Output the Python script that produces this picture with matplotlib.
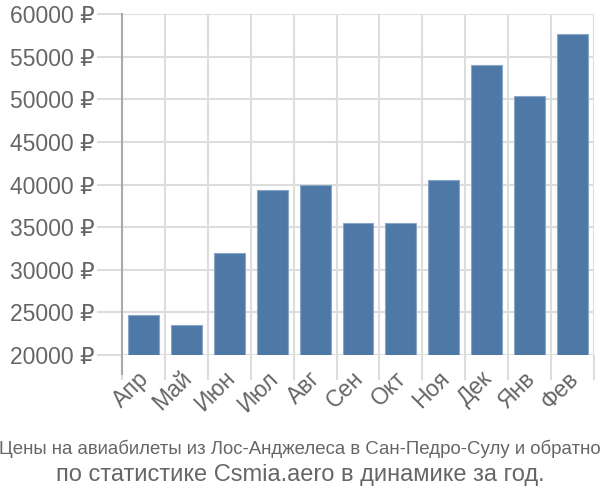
import matplotlib
matplotlib.use("Agg")
import matplotlib.pyplot as plt
import numpy as np
from matplotlib.lines import Line2D
import matplotlib.transforms as mtransforms

months = ["Апр", "Май", "Июн", "Июл", "Авг", "Сен", "Окт", "Ноя", "Дек", "Янв", "Фев"]
prices = [24700, 23500, 31950, 39400, 39900, 35450, 35450, 40550, 54000, 50400, 57650]
yticks = [20000, 25000, 30000, 35000, 40000, 45000, 50000, 55000, 60000]
title1 = "Цены на авиабилеты из Лос-Анджелеса в Сан-Педро-Сулу и обратно"
title2 = "по статистике Csmia.aero в динамике за год."

plt.rcParams['font.family'] = ['Liberation Sans', 'DejaVu Sans']

fig = plt.figure(figsize=(6, 5), dpi=100)
ax = fig.add_axes([122/600, 1-355/500, 472/600, (355-14)/500])

x = np.arange(len(months))
ax.bar(x, prices, width=0.72, bottom=0, color="#4e79a7", edgecolor="#8aa6c6", linewidth=0.8, zorder=3)
ax.set_xlim(-0.5, len(months)-0.5)
ax.set_ylim(20000, 60000)

ax.set_yticks(yticks)
ax.set_yticklabels([f"{v} ₽" for v in yticks], fontsize=16.5, color="#666666")
ax.tick_params(axis='y', length=18, color="#dddddd", width=1.5, pad=2)

ax.set_xticks(x)
ax.set_xticklabels(months, rotation=45, ha='right', va='top', rotation_mode='anchor',
                   fontsize=16.5, color="#666666")
ax.tick_params(axis='x', which='major', length=0, pad=10)
offset = mtransforms.ScaledTranslation(-6/100, 2/100, fig.dpi_scale_trans)
for lbl in ax.get_xticklabels():
    lbl.set_transform(lbl.get_transform() + offset)
ax.set_xticks(np.arange(-0.5, len(months)), minor=True)
ax.tick_params(axis='x', which='minor', length=18, color="#dddddd", width=1.5)

ax.grid(True, axis='y', which='major', color="#dddddd", linewidth=1.5, zorder=0)
ax.grid(True, axis='x', which='minor', color="#dddddd", linewidth=1.5, zorder=0)

for s in ['top', 'right', 'bottom', 'left']:
    ax.spines[s].set_visible(False)

ax.add_line(Line2D([0, 0], [-0.055, 1], transform=ax.transAxes, color="#aaaaaa",
                   linewidth=1.5, clip_on=False, zorder=4))

fig.text(0.5, 1-449/500, title1, ha='center', va='center', fontsize=13.4, color="#666666")
fig.text(0.5, 1-475/500, title2, ha='center', va='center', fontsize=17, color="#666666")

fig.savefig("out.png", dpi=100)
